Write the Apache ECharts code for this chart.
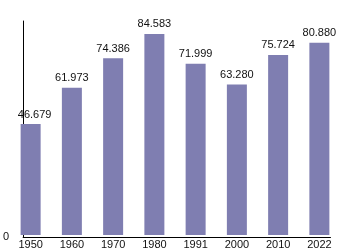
<!DOCTYPE html>
<html><head><meta charset="utf-8">
<script src="https://cdn.jsdelivr.net/npm/echarts@6/dist/echarts.min.js"></script>
<style>html,body{margin:0;padding:0;background:#fff}#c{width:350px;height:250px}</style>
</head><body><div id="c"></div>
<script>
const years = ['1950','1960','1970','1980','1991','2000','2010','2022'];
const population = [46.679, 61.973, 74.386, 84.583, 71.999, 63.280, 75.724, 80.880];
const yMin = 0, yMax = 90;

const chart = echarts.init(document.getElementById('c'), null, {renderer:'canvas'});
const font = 'Liberation Sans, Arial, sans-serif';
const barData = population.map((v, i) => i === 0
  ? {value: v, label: {offset: [4, 0]}}
  : v);
chart.setOption({
  animation: false,
  grid: [
    {left: 10, right: 10, top: 21, bottom: 13},
    {left: 20.5, right: 19.5, top: 21, bottom: 13}
  ],
  xAxis: [
    {type: 'category', data: years, gridIndex: 0,
     axisLine: {show: false}, axisTick: {show: false},
     axisLabel: {color: '#111', fontSize: 11, fontFamily: font, margin: 4}},
    {type: 'value', gridIndex: 1, min: 0, max: 1,
     axisLine: {show: true, lineStyle: {color: '#000', width: 1}},
     axisTick: {show: false}, axisLabel: {show: false}, splitLine: {show: false}}
  ],
  yAxis: [
    {type: 'value', gridIndex: 0, min: yMin, max: yMax,
     axisLine: {show: false}, axisTick: {show: false},
     axisLabel: {show: false}, splitLine: {show: false}},
    {type: 'value', gridIndex: 1, min: yMin, max: yMax, interval: 90,
     axisLine: {show: true, lineStyle: {color: '#000', width: 1}},
     axisTick: {show: false}, splitLine: {show: false},
     axisLabel: {color: '#111', fontSize: 11, fontFamily: font, margin: 14,
       formatter: v => v === 0 ? '0' : ''}}
  ],
  series: [{
    type: 'bar', xAxisIndex: 0, yAxisIndex: 0,
    data: barData, barWidth: 20,
    itemStyle: {color: '#7f7eb1'},
    label: {show: true, position: 'top', distance: 4, color: '#111',
      fontSize: 11, fontFamily: font,
      formatter: p => p.value.toFixed(3)}
  }]
});
</script></body></html>
